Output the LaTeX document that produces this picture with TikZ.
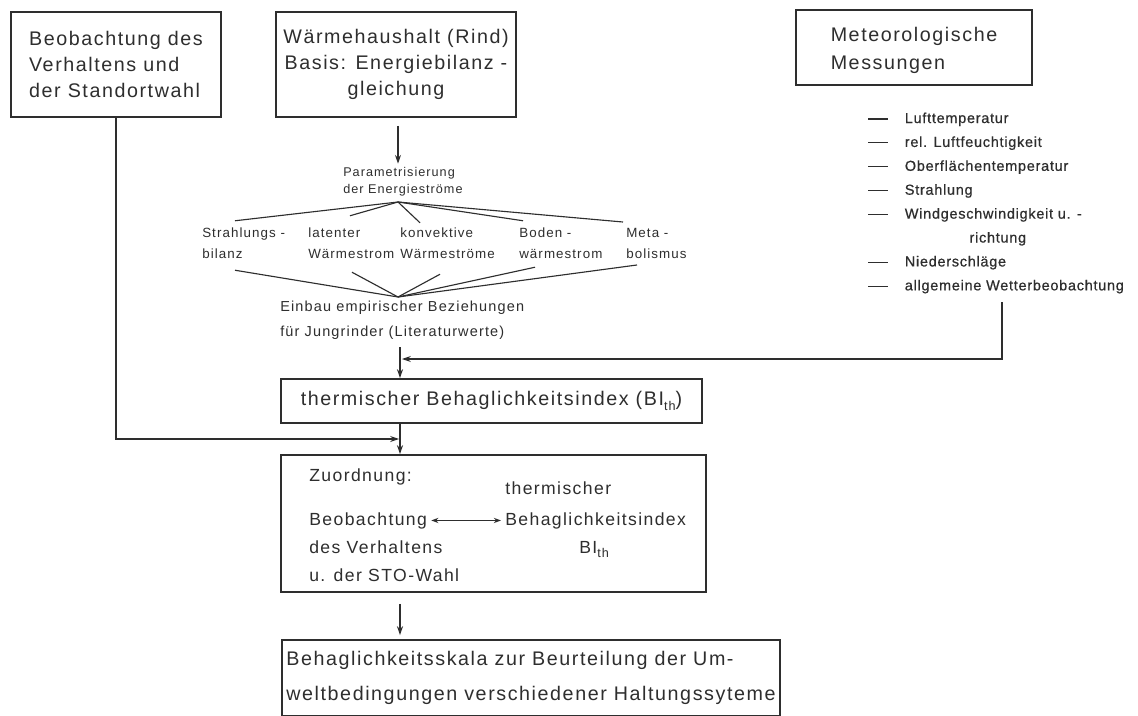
\documentclass[tikz,border=0pt]{standalone}
\usepackage{fontspec}
\setmainfont{Liberation Sans}[LetterSpace=8]
\newfontfamily\listfont{Liberation Sans}[LetterSpace=5, FakeBold=0.6]
\usepackage{xcolor}
\usetikzlibrary{arrows.meta, positioning, calc}
\definecolor{ink}{HTML}{2E2E2E}
\newcommand{\BIth}{BI\raisebox{-0.5ex}{\fontsize{9}{9}\selectfont th}}
\newcommand{\listdash}{\rule[2.5pt]{14pt}{0.8pt}}

\begin{document}
\begin{tikzpicture}[
    x=0.025cm, y=-0.025cm,
    every node/.style={text=ink},
    box/.style={draw=ink, line width=1.3pt, inner sep=0pt, font=\fontsize{14}{18.5}\selectfont},
    note/.style={inner sep=0pt, align=left, font=\fontsize{9.5}{15}\selectfont},
    zl/.style={inner sep=0pt, anchor=base west, font=\fontsize{12.5}{16}\selectfont},
    line/.style={draw=ink, line width=0.8pt},
    arr/.style={line, -{Stealth[length=2.2mm, width=1.5mm]}},
    dbl/.style={line, {Stealth[length=1.8mm, width=1.3mm]}-{Stealth[length=1.8mm, width=1.3mm]}},
  ]
    \fill[white] (0,0) rectangle (1138,716);
    \useasboundingbox (0,0) rectangle (1138,716);

    % top row of sources
    \node[box, minimum width=5.25cm, minimum height=2.625cm, align=left] (obs) at (116,64.5) {Beobachtung des\\Verhaltens und\\der Standortwahl};
    \node[box, minimum width=6cm, minimum height=2.625cm, align=center] (waerme) at (396,64.5) {Wärmehaushalt (Rind)\\Basis: Energiebilanz -\\gleichung};
    \node[box, minimum width=5.9cm, minimum height=1.875cm, align=left, font=\fontsize{14}{20}\selectfont] (meteo) at (914,47.5) {\rule{0pt}{14pt}Meteorologische\\Messungen};

    % measured quantities
    \node[anchor=north west, inner sep=0pt, font=\listfont\fontsize{10.3}{17}\selectfont] (meteolist) at (868,106) {%
      \begin{tabular}{@{}l@{\hspace{12pt}}l@{}}
        \listdash & Lufttemperatur\\
        \listdash & rel. Luftfeuchtigkeit\\
        \listdash & Oberflächentemperatur\\
        \listdash & Strahlung\\
        \listdash & Windgeschwindigkeit u. -\\
                  & \hspace*{46pt}richtung\\
        \listdash & Niederschläge\\
        \listdash & allgemeine Wetterbeobachtung
      \end{tabular}};

    % energy balance terms
    \node[note, anchor=west, font=\fontsize{9}{12}\selectfont] (param) at (343,181.5) {Parametrisierung\\der Energieströme};
    \coordinate (split) at (398,202);
    \draw[arr, shorten <=0.2cm, shorten >=0.08cm] (waerme.south -| split) -- (split |- param.north);

    \node[note, anchor=west] (strahl) at (202,243.5) {Strahlungs -\\bilanz};
    \node[note, anchor=west] (latent) at (308,243.5) {latenter\\Wärmestrom};
    \node[note, anchor=west] (konv) at (400,243.5) {konvektive\\Wärmeströme};
    \node[note, anchor=west] (boden) at (519,243.5) {Boden -\\wärmestrom};
    \node[note, anchor=west] (meta) at (626,243.5) {Meta -\\bolismus};

    \draw[line] (split) -- ($(strahl.north west)+(33,-7)$);
    \draw[line] (split) -- ($(latent.north west)+(42,-12)$);
    \draw[line] (split) -- ($(konv.north west)+(20,-5)$);
    \draw[line] (split) -- ($(boden.north west)+(4,-7)$);
    \draw[line] (split) -- ($(meta.north west)+(-3,-6)$);

    \coordinate (merge) at (398,297);
    \draw[line] ($(strahl.south west)+(33,11)$) -- (merge);
    \draw[line] ($(latent.south west)+(44,13)$) -- (merge);
    \draw[line] ($(konv.south west)+(40,15)$) -- (merge);
    \draw[line] ($(boden.south west)+(16,8)$) -- (merge);
    \draw[line] ($(meta.south west)+(11,6)$) -- (merge);

    \node[note, anchor=west, font=\fontsize{10.3}{18}\selectfont] (einbau) at (280,320.5) {Einbau empirischer Beziehungen\\für Jungrinder (Literaturwerte)};

    % index and its inputs
    \node[box, minimum width=10.525cm, minimum height=1.1cm] (bi) at (491.5,401) {thermischer Behaglichkeitsindex (\BIth)};
    \coordinate (trunk) at (400,347);
    \draw[arr] (trunk) -- (trunk |- bi.north);
    \coordinate (mt) at (1002,302);
    \coordinate (mjoin) at (402,359);
    \draw[arr] (mt) |- (mjoin);

    \coordinate (ojoin) at (399,439);
    \draw[arr] (obs.south) |- (ojoin);

    % assignment
    \node[box, minimum width=10.625cm, minimum height=3.425cm] (zuo) at (493.5,523.5) {};
    \draw[arr] (bi.south -| trunk) -- (zuo.north -| trunk);
    \node[zl] (ztitle) at (309,481) {Zuordnung:};
    \node[zl] (beob1) at (309,525) {Beobachtung};
    \node[zl] (beob2) at (309,553) {des Verhaltens};
    \node[zl] (beob3) at (309,581) {u. der STO-Wahl};
    \node[zl] (bidx1) at (505,494) {thermischer};
    \node[zl] (bidx2) at (505,525) {Behaglichkeitsindex};
    \node[zl] (bith) at (579,553) {\BIth};
    \draw[dbl, shorten <=0.1cm, shorten >=0.1cm] (beob1.east) -- (bidx2.west);

    % result
    \node[box, minimum width=12.45cm, minimum height=1.9cm, align=left, font=\fontsize{14}{25}\selectfont] (scale) at (531,678) {Behaglichkeitsskala zur Beurteilung der Um-\\weltbedingungen verschiedener Haltungssyteme};
    \draw[arr, shorten <=0.275cm, shorten >=0.1cm] (zuo.south -| trunk) -- (scale.north -| trunk);
  \end{tikzpicture}
\end{document}
